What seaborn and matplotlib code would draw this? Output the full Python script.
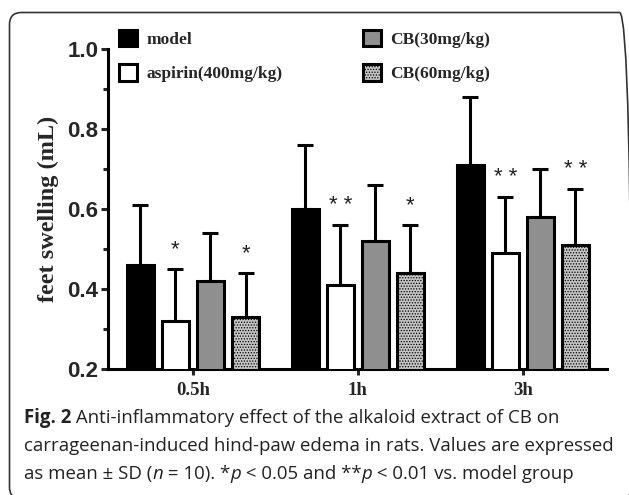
import matplotlib
matplotlib.use("Agg")
import matplotlib.pyplot as plt
import seaborn as sns
import pandas as pd
import numpy as np
from matplotlib.patches import Patch, FancyBboxPatch
from matplotlib.ticker import FixedLocator

# ---- data ----
times = ["0.5h", "1h", "3h"]
groups = ["model", "aspirin(400mg/kg)", "CB(30mg/kg)", "CB(60mg/kg)"]
model_mean = [0.46, 0.60, 0.71]
model_sd = [0.15, 0.16, 0.17]
aspirin_mean = [0.32, 0.41, 0.49]
aspirin_sd = [0.13, 0.15, 0.14]
cb30_mean = [0.42, 0.52, 0.58]
cb30_sd = [0.12, 0.14, 0.12]
cb60_mean = [0.33, 0.44, 0.51]
cb60_sd = [0.11, 0.12, 0.14]
aspirin_sig = ["*", "**", "**"]
cb30_sig = ["", "", ""]
cb60_sig = ["*", "*", "**"]
model_sig = ["", "", ""]

means = [model_mean, aspirin_mean, cb30_mean, cb60_mean]
sds = [model_sd, aspirin_sd, cb30_sd, cb60_sd]
sigs = [model_sig, aspirin_sig, cb30_sig, cb60_sig]

rows = []
for g, m in zip(groups, means):
    for t, v in zip(times, m):
        rows.append({"time": t, "group": g, "value": v})
df = pd.DataFrame(rows)

sns.set_style("white")
plt.rcParams["hatch.linewidth"] = 0.6
W, H = 629, 495
fig = plt.figure(figsize=(W / 100, H / 100), dpi=100)
ax = fig.add_axes([108 / W, (H - 369.3) / H, (607 - 108) / W, (369.3 - 49.3) / H])

face = {"model": "black", "aspirin(400mg/kg)": "white",
        "CB(30mg/kg)": "#8f8f8f", "CB(60mg/kg)": "#c4c4c4"}
lw = 2.2
sns.barplot(data=df, x="time", y="value", hue="group", order=times,
            hue_order=groups, palette=face, width=0.85, gap=0.22,
            edgecolor="black", linewidth=lw, errorbar=None, ax=ax,
            legend=False, zorder=3)

bar_containers = list(ax.containers)
for gi, cont in enumerate(bar_containers):
    for ti, bar in enumerate(cont):
        if groups[gi] == "CB(60mg/kg)":
            bar.set_hatch("......")
        x = bar.get_x() + bar.get_width() / 2
        top = means[gi][ti]
        ax.errorbar([x], [top], yerr=[[0], [sds[gi][ti]]], fmt="none",
                    ecolor="black", elinewidth=lw, capsize=5.5, capthick=lw,
                    zorder=2)
        s = sigs[gi][ti]
        if s:
            ax.text(x, top + sds[gi][ti] + 0.05, s.replace("**", "* *"),
                    ha="center", va="center",
                    fontsize=16, family="Liberation Sans", color="#222222")

ax.set_ylim(0.2, 1.0)
ax.set_xlim(-0.515, 2.51)
ax.yaxis.set_major_locator(FixedLocator([0.2, 0.4, 0.6, 0.8, 1.0]))
ax.yaxis.set_minor_locator(FixedLocator([0.3, 0.5, 0.7, 0.9]))
ax.set_yticklabels(["0.2", "0.4", "0.6", "0.8", "1.0"],
                   family="Liberation Sans", fontweight="bold", fontsize=16)
ax.set_xticks(range(len(times)))
ax.set_xticklabels(times, family="Liberation Serif", fontweight="bold", fontsize=13.5)
ax.tick_params(axis="y", which="major", direction="out", length=5, width=lw,
               left=True, pad=2)
ax.tick_params(axis="y", which="minor", direction="out", length=3.5, width=lw,
               left=True)
ax.tick_params(axis="x", which="major", direction="out", length=4, width=lw,
               bottom=True, pad=5)
for sp in ["top", "right"]:
    ax.spines[sp].set_visible(False)
for sp in ["left", "bottom"]:
    ax.spines[sp].set_linewidth(lw)
    ax.spines[sp].set_color("black")
ax.set_xlabel("")
ax.set_ylabel("feet swelling (mL)", family="Liberation Serif",
              fontweight="bold", fontsize=17.5, labelpad=6)

# legend
handles = [Patch(facecolor=face[g], edgecolor="black", linewidth=lw,
                 hatch=("......" if g == "CB(60mg/kg)" else None)) for g in groups]
leg = fig.legend(handles, groups, loc="upper left",
                 bbox_to_anchor=(112 / W, 1 - 23 / H), ncol=2, frameon=False,
                 prop={"family": "Liberation Serif", "weight": "bold", "size": 12.5},
                 handlelength=1.05, handleheight=1.05, handletextpad=0.55,
                 columnspacing=4.6, labelspacing=0.95, borderaxespad=0)

# frame
frame = FancyBboxPatch((9.5, -4), 622, 486.5,
                       boxstyle="round,pad=0,rounding_size=12",
                       transform=None, facecolor="none", edgecolor="#333333",
                       linewidth=1.2, zorder=0)
fig.patches.append(frame)

# caption
cap_font = "Open Sans"
cap_size = 13.4
lines = [
    [("Fig. 2", "bold", "normal"), (" Anti-inflammatory effect of the alkaloid extract of CB on", "normal", "normal")],
    [("carrageenan-induced hind-paw edema in rats. Values are expressed", "normal", "normal")],
    [("as mean \u00b1 SD (", "normal", "normal"), ("n", "normal", "italic"),
     (" = 10). *", "normal", "normal"), ("p", "normal", "italic"),
     (" < 0.05 and **", "normal", "normal"), ("p", "normal", "italic"),
     (" < 0.01 vs. model group", "normal", "normal")],
]
ys = [418, 446, 474]
fig.canvas.draw()
renderer = fig.canvas.get_renderer()
for line, yp in zip(lines, ys):
    xp = 24
    for txt, wt, st in line:
        t = fig.text(xp / W, 1 - yp / H, txt, fontsize=cap_size, family=cap_font,
                     fontweight=wt, fontstyle=st, va="center", ha="left",
                     color="#222222")
        bb = t.get_window_extent(renderer=renderer)
        xp += bb.width

fig.savefig("out.png", dpi=100)
